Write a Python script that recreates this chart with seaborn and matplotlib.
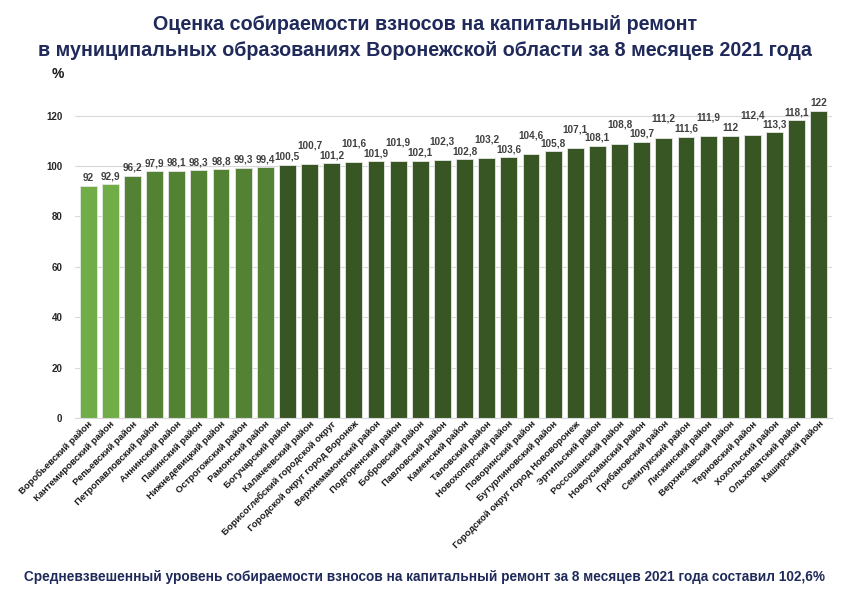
import matplotlib
matplotlib.use("Agg")
import matplotlib.pyplot as plt
import seaborn as sns
import pandas as pd

# Данные
districts = [
    "Воробьевский район", "Кантемировский район", "Репьевский район",
    "Петропавловский район", "Аннинский район", "Панинский район",
    "Нижнедевицкий район", "Острогожский район", "Рамонский район",
    "Богучарский район", "Калачеевский район", "Борисоглебский городской округ",
    "Городской округ город Воронеж", "Верхнемамонский район", "Подгоренский район",
    "Бобровский район", "Павловский район", "Каменский район",
    "Таловский район", "Новохоперский район", "Поворинский район",
    "Бутурлиновский район", "Городской округ город Нововоронеж", "Эртильский район",
    "Россошанский район", "Новоусманский район", "Грибановский район",
    "Семилукский район", "Лискинский район", "Верхнехавский район",
    "Терновский район", "Хохольский район", "Ольховатский район",
    "Каширский район",
]
values = [
    92, 92.9, 96.2, 97.9, 98.1, 98.3, 98.8, 99.3, 99.4,
    100.5, 100.7, 101.2, 101.6, 101.9, 101.9, 102.1, 102.3, 102.8,
    103.2, 103.6, 104.6, 105.8, 107.1, 108.1, 108.8, 109.7, 111.2,
    111.6, 111.9, 112, 112.4, 113.3, 118.1, 122,
]
y_ticks = [0, 20, 40, 60, 80, 100, 120]

title = ("Оценка собираемости взносов на капитальный ремонт\n"
         "в муниципальных образованиях Воронежской области за 8 месяцев 2021 года")
footer = ("Средневзвешенный уровень собираемости взносов на капитальный ремонт "
          "за 8 месяцев 2021 года составил 102,6%")

navy = "#1f2a5a"
fonts = ["Liberation Sans", "DejaVu Sans"]


def bar_color(v):
    if v < 95:
        return "#70ad47"
    if v < 100:
        return "#548235"
    return "#375623"


df = pd.DataFrame({"district": districts, "value": values})
palette = {d: bar_color(v) for d, v in zip(districts, values)}

sns.set_style("white")
plt.rcParams["font.family"] = fonts

fig = plt.figure(figsize=(8.5, 5.97), dpi=100)
ax = fig.add_axes([0.088, 0.300, 0.891, 0.5275])

sns.barplot(data=df, x="district", y="value", hue="district", palette=palette,
            legend=False, width=0.76, edgecolor="#e6e6e6", linewidth=0.6,
            saturation=1, ax=ax)

ax.set_ylim(0, 125)
ax.set_xlim(-0.6, len(districts) - 0.4)
ax.set_yticks(y_ticks)
ax.grid(axis="y", color="#d9d9d9", linewidth=0.8)
ax.set_axisbelow(True)
for s in ["top", "right", "left"]:
    ax.spines[s].set_visible(False)
ax.spines["bottom"].set_color("#d9d9d9")
ax.set_xlabel("")
ax.set_ylabel("")
ax.tick_params(axis="y", length=0, labelsize=7, pad=9)
ax.tick_params(axis="x", length=0, pad=1)
for lbl in ax.get_yticklabels():
    lbl.set_fontweight("bold")
ax.set_xticks(range(len(districts)))
ax.set_xticklabels(districts, rotation=45, ha="right", rotation_mode="anchor",
                   fontsize=6.8, fontweight="bold", color="#1a1a1a")

# подписи значений (часть приподнята, чтобы не перекрывались)
for i, v in enumerate(values):
    txt = f"{v:g}".replace(".", ",")
    dy = 10 if (i >= 10 and i % 2 == 0 and i <= 30) else 2
    ax.annotate(txt, (i, v), xytext=(0, dy), textcoords="offset points",
                ha="center", va="bottom", fontsize=7.2, fontweight="bold",
                color="#404040")

fig.text(0.061, 0.869, "%", fontsize=10, fontweight="bold", color="#1a1a1a")
fig.text(0.5, 0.975, title, ha="center", va="top", fontsize=14.2,
         fontweight="bold", color=navy, linespacing=1.5)
fig.text(0.5, 0.033, footer, ha="center", va="center", fontsize=9.8,
         fontweight="bold", color=navy)

fig.savefig("out.png", dpi=100, facecolor="white")
